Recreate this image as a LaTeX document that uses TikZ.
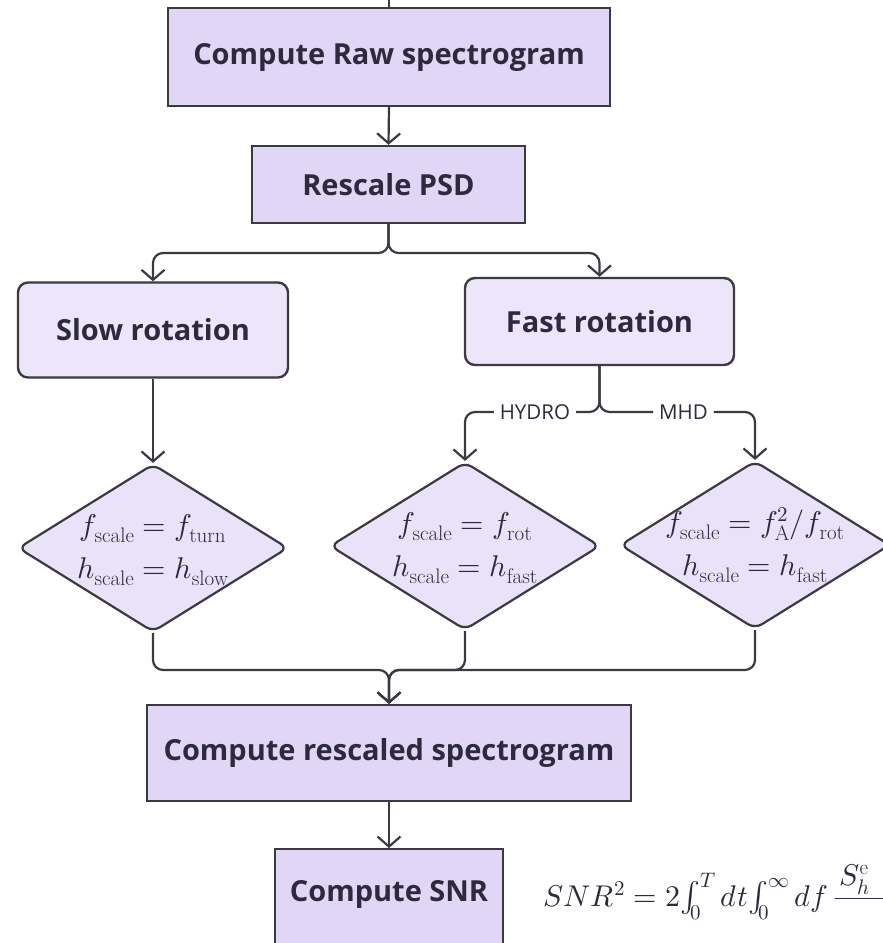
\documentclass[tikz,border=0pt]{standalone}
\usepackage{fontspec}
\usepackage{unicode-math}
\setsansfont{Open Sans}
\usetikzlibrary{arrows.meta,shapes.geometric}
\definecolor{strokec}{HTML}{3A3A42}
\definecolor{textc}{HTML}{2C2A3C}
\definecolor{rectfill}{HTML}{E2D6F7}
\definecolor{roundfill}{HTML}{EDE5F9}
\definecolor{diafill}{HTML}{EAE2F8}
\begin{document}
\begin{tikzpicture}[x=1pt,y=-1pt,
  base/.style={draw=strokec, line width=2.4pt, text=textc, inner sep=0pt,
    font=\fontsize{29}{35}\selectfont\sffamily\bfseries},
  sqbox/.style={base, rectangle, fill=rectfill},
  rbox/.style={base, rectangle, rounded corners=10pt, fill=roundfill},
  dia/.style={base, diamond, rounded corners=8pt, fill=diafill, line width=2.2pt,
    font=\fontsize{30}{43}\selectfont, minimum width=270pt, minimum height=168pt},
  conn/.style={draw=strokec, line width=2.2pt, rounded corners=10pt,
    -{Straight Barb[length=10pt,width=23pt]}},
  plain/.style={draw=strokec, line width=2.2pt},
  lab/.style={fill=white, text=textc, inner xsep=6pt, inner ysep=2pt,
    font=\fontsize{20.5}{24}\selectfont\sffamily},
  txt/.style={text=textc, inner sep=0pt}]
\useasboundingbox (0,0) rectangle (883,943);
\fill[white] (0,0) rectangle (883,943);

% boxes
\node[sqbox, minimum width=442pt, minimum height=98pt] (raw) at (389,57) {Compute Raw spectrogram};
\node[sqbox, minimum width=273pt, minimum height=77pt] (psd) at (388.5,184.5) {Rescale PSD};
\node[rbox, minimum width=270pt, minimum height=95pt] (slow) at (153,330) {Slow rotation};
\node[rbox, minimum width=269pt, minimum height=87pt] (fast) at (599.5,321.5) {Fast rotation};

\node[dia] (d1) at (153,548) {\makebox[0pt]{\begin{tabular}{@{}c@{}}$f_{\mathrm{scale}}=f_{\mathrm{turn}}$\\ $h_{\mathrm{scale}}=h_{\mathrm{slow}}$\end{tabular}}};
\node[dia] (d2) at (465,546) {\makebox[0pt]{\begin{tabular}{@{}c@{}}$f_{\mathrm{scale}}=f_{\mathrm{rot}}$\\ $h_{\mathrm{scale}}=h_{\mathrm{fast}}$\end{tabular}}};
\node[dia] (d3) at (755,545) {\makebox[0pt]{\begin{tabular}{@{}c@{}}$f_{\mathrm{scale}}=f_{\mathrm{A}}^2/f_{\mathrm{rot}}$\\ $h_{\mathrm{scale}}=h_{\mathrm{fast}}$\end{tabular}}};

\node[sqbox, minimum width=484pt, minimum height=96pt] (resc) at (389,753) {Compute rescaled spectrogram};
\node[sqbox, minimum width=228pt, minimum height=110pt, anchor=north] (snr) at (389,848) {};
\node[txt, font=\fontsize{29}{35}\selectfont\sffamily\bfseries] (snrtxt) at (389,894) {Compute SNR};

\node[txt, anchor=base west, font=\fontsize{30}{38}\selectfont] (formula) at (543,906)
  {$SNR^2 = 2\!\int_0^T dt\!\int_0^\infty df\,{\displaystyle\frac{S_h^{\mathrm{e}}\hphantom{S_h^{\mathrm{eff}}}}{\hphantom{S_h^{\mathrm{eff}}S_h^{\mathrm{eff}}}}}$};

% connectors
\coordinate (topin) at (389,-20);
\draw[plain] (topin) -- (raw.north);
\draw[conn] (raw.south) -- (psd.north);
\coordinate (s1) at (388.5,253);
\draw[conn] (psd.south) -- (s1) -| (slow.north);
\draw[conn] (psd.south) -- (s1) -| (fast.north);
\draw[conn] (slow.south) -- (d1.north);
\coordinate (s2) at (599.5,412);
\draw[conn] (fast.south) -- (s2) -| node[lab, pos=0.24] (hydro) {HYDRO} (d2.north);
\draw[conn] (fast.south) -- (s2) -| node[lab, pos=0.27] (mhd) {MHD} (d3.north);
\coordinate (m) at (389,670);
\draw[conn] (d1.south) |- (m) -- (resc.north);
\draw[conn] (d2.south) |- (m) -- (resc.north);
\draw[conn] (d3.south) |- (m) -- (resc.north);
\draw[conn] (resc.south) -- (snr.north);
\end{tikzpicture}
\end{document}
